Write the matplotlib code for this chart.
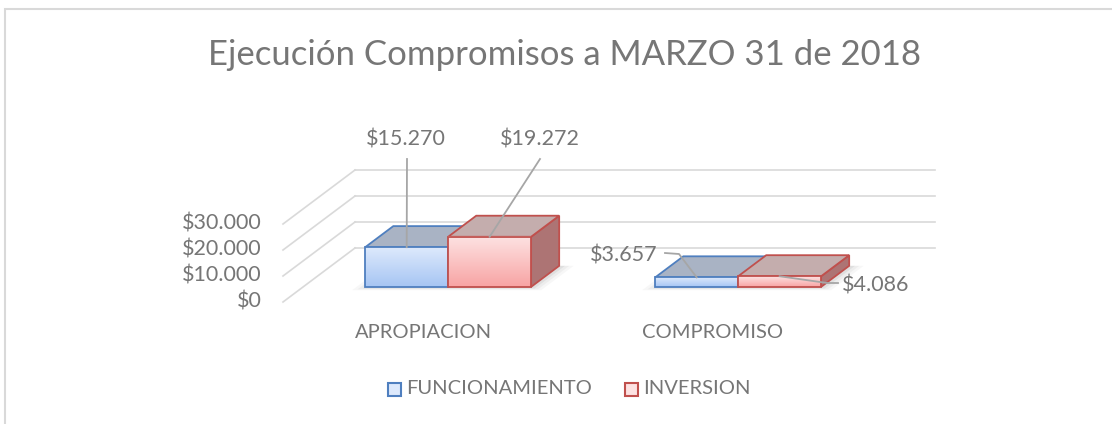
import numpy as np
import matplotlib
matplotlib.use("Agg")
import matplotlib.pyplot as plt
from matplotlib.patches import Polygon, Rectangle

# chart data
categories = ["APROPIACION", "COMPROMISO"]
funcionamiento = [15270, 3657]
inversion = [19272, 4086]
series_names = ["FUNCIONAMIENTO", "INVERSION"]
y_ticks = [0, 10000, 20000, 30000]
y_tick_labels = ["$0", "$10.000", "$20.000", "$30.000"]
value_labels = [["$15.270", "$3.657"], ["$19.272", "$4.086"]]

W, H = 1112, 424
X0, XS = 283, 290      # px of floor front-left, px per category
Y0, YS = 302, 0.0026   # px of zero on front, px per value unit
DEPTH_X = 72 / XS
DEPTH_V = 54 / YS
D0, D1 = 0.28, 0.67    # bar depth range (front, back)
BAR_W = 0.286

TXT = "#767676"
GRID = "#d9d9d9"
LEAD = "#a6a6a6"

plt.rcParams["font.family"] = ["Lato", "DejaVu Sans"]

fig = plt.figure(figsize=(W / 100, H / 100), dpi=100)
ax = fig.add_axes([0, 0, 1, 1])
ax.set_xlim(-X0 / XS, (W - X0) / XS)
ax.set_ylim((Y0 - H) / YS, Y0 / YS)
ax.axis("off")


def P(x, v, d):
    return (x + d * DEPTH_X, v + d * DEPTH_V)


def px(xp, yp):
    # pixel -> data, used for text placement
    return ((xp - X0) / XS, (Y0 - yp) / YS)


# border
fig.patches.append(Rectangle((5 / W, -0.1), 1.2, 1 - 9 / H + 0.1, transform=fig.transFigure,
                             fill=False, edgecolor="#d9d9d9", lw=1.5))

# walls
n = len(categories)
for v, lab in zip(y_ticks, y_tick_labels):
    a, b = P(0, v, 1), P(n, v, 1)
    ax.plot([a[0], b[0]], [a[1], b[1]], color=GRID, lw=1.2, zorder=1)
    c = P(0, v, 0)
    ax.plot([c[0], a[0]], [c[1], a[1]], color=GRID, lw=1.2, zorder=1)
    ax.text(c[0] - 21 / XS, c[1], lab, ha="right", va="center", fontsize=15.5, color=TXT)

for i, cat in enumerate(categories):
    fx, fy = px(X0 + XS * (i + 0.5) - 5, 333)
    ax.text(fx, fy, cat, ha="center", va="center", fontsize=14.5, color=TXT)

styles = [
    dict(top="#dde9fc", bot="#a6c5f3", lid="#a9b3c4", side="#8e9db8", edge="#4f7fbf"),
    dict(top="#fde2e2", bot="#f8a4a4", lid="#c4adad", side="#ad7474", edge="#c0504d"),
]

z = 3
for i in range(n):
    left = i + 0.5 - BAR_W
    # soft shadow on the floor
    for k, al in [(0.03, 0.06), (0.015, 0.08), (0.0, 0.12)]:
        sh = [P(left - k, 0, D0 - 0.03 - k), P(left + 2 * BAR_W + k + 0.02, 0, D0 - 0.03 - k),
              P(left + 2 * BAR_W + k + 0.02, 0, D1), P(left - k, 0, D1)]
        ax.add_patch(Polygon(sh, closed=True, facecolor="#7f7f7f", alpha=al, lw=0, zorder=2))
    for s, vals in enumerate([funcionamiento, inversion]):
        v = vals[i]
        st = styles[s]
        x1 = left + s * BAR_W
        x2 = x1 + BAR_W
        # right side face
        side = [P(x2, 0, D0), P(x2, 0, D1), P(x2, v, D1), P(x2, v, D0)]
        ax.add_patch(Polygon(side, closed=True, facecolor=st["side"], edgecolor=st["edge"],
                             lw=1.3, zorder=z))
        # top face
        lid = [P(x1, v, D0), P(x2, v, D0), P(x2, v, D1), P(x1, v, D1)]
        ax.add_patch(Polygon(lid, closed=True, facecolor=st["lid"], edgecolor=st["edge"],
                             lw=1.3, zorder=z))
        # front face with gradient
        fa, fb = P(x1, 0, D0), P(x2, v, D0)
        grad = np.linspace(0, 1, 64).reshape(-1, 1)
        cmap = matplotlib.colors.LinearSegmentedColormap.from_list("g", [st["bot"], st["top"]])
        ax.imshow(grad, cmap=cmap, origin="lower", aspect="auto",
                  extent=[fa[0], fb[0], fa[1], fb[1]], zorder=z + 0.1)
        ax.add_patch(Rectangle(fa, fb[0] - fa[0], fb[1] - fa[1], fill=False,
                               edgecolor=st["edge"], lw=1.3, zorder=z + 0.2))
        z += 1

# data labels with leader lines
for s in range(2):
    for i in range(n):
        left = i + 0.5 - BAR_W
        x1 = left + s * BAR_W
        vals = [funcionamiento, inversion][s]
        ax_, ay_ = P(x1 + BAR_W / 2, vals[i], D0)
        axp, ayp = X0 + XS * ax_, Y0 - YS * ay_
        if i == 0:
            tx, ty = (406, 140) if s == 0 else (540, 140)
            pts = [(tx + 1 if s == 0 else tx, 159), (axp, ayp)]
            ha = "center"
            lx, ly = px(tx, ty)
        elif s == 0:
            pts = [(665, 253), (679, 254), (axp, ayp)]
            lx, ly = px(658, 255)
            ha = "right"
        else:
            pts = [(axp, ayp), (827, 283), (838, 283)]
            lx, ly = px(842, 285)
            ha = "left"
        xs = [(p[0] - X0) / XS for p in pts]
        ys = [(Y0 - p[1]) / YS for p in pts]
        ax.plot(xs, ys, color=LEAD, lw=1.3, zorder=20)
        ax.text(lx, ly, value_labels[s][i], ha=ha, va="center", fontsize=15.5, color=TXT, zorder=21)

# title
fig.text(564 / W, 1 - 55 / H, "Ejecución Compromisos a MARZO 31 de 2018", ha="center",
         va="center", fontsize=25, color=TXT)

# legend
for (sx, tx), st, name in zip([(388, 406), (625, 643)], styles, series_names):
    fig.patches.append(Rectangle((sx / W, 1 - 396 / H), 13 / W, 13 / H, transform=fig.transFigure,
                                 facecolor=st["top"], edgecolor=st["edge"], lw=1.5))
    fig.text(tx / W, 1 - 389 / H, name, ha="left", va="center", fontsize=14.5, color=TXT)

fig.savefig("out.png", dpi=100)
